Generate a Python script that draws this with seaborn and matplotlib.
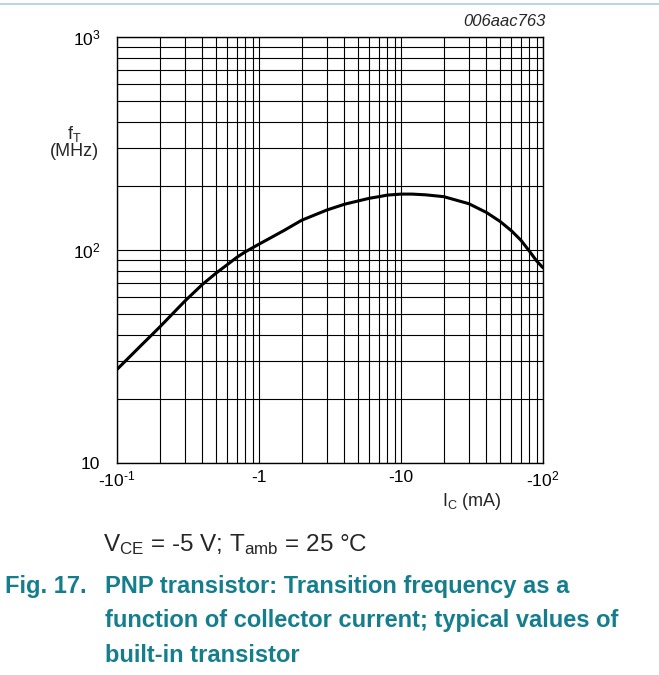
import numpy as np
import pandas as pd
import matplotlib
matplotlib.use('Agg')
import matplotlib.pyplot as plt
import matplotlib.ticker as mticker
from matplotlib.lines import Line2D
import seaborn as sns

# valores (|Ic| en mA, fT en MHz)
ic_ma = [0.1, 0.15, 0.2, 0.3, 0.4, 0.5, 0.6, 0.7, 0.8, 1, 1.5, 2, 3, 4, 5, 6, 7, 8,
         10, 12, 15, 20, 30, 40, 50, 60, 70, 80, 90, 100]
ft_mhz = [27.5, 36, 43.5, 57.5, 69, 78, 85.5, 92.5, 98, 106.5, 123.5, 138, 154, 164, 170, 175, 178, 181,
          183, 183, 181.5, 178, 165, 150, 136, 123, 111, 99, 89, 82.5]

x_ticks = [0.1, 1, 10, 100]
x_labels = [r'-10$^{\text{-1}}$', '-1', '-10', r'-10$^{\text{2}}$']
y_ticks = [10, 100, 1000]
y_labels = ['10', r'10$^{\text{2}}$', r'10$^{\text{3}}$']

teal = '#147e8d'

sns.set_style('white')
plt.rcParams['font.family'] = ['Liberation Sans', 'DejaVu Sans']
plt.rcParams['mathtext.fontset'] = 'custom'
plt.rcParams['mathtext.rm'] = 'Liberation Sans'
plt.rcParams['mathtext.it'] = 'Liberation Sans:italic'
plt.rcParams['mathtext.bf'] = 'Liberation Sans:bold'

df = pd.DataFrame({'ic': ic_ma, 'ft': ft_mhz})

fig = plt.figure(figsize=(6.59, 6.75), dpi=100)
ax = fig.add_axes([117 / 659, 1 - 463 / 675, 426 / 659, 426 / 675])

sns.lineplot(data=df, x='ic', y='ft', ax=ax, color='black', linewidth=2.2)

ax.set_xscale('log')
ax.set_yscale('log')
ax.set_xlim(0.1, 100)
ax.set_ylim(10, 1000)

ax.xaxis.set_major_locator(mticker.FixedLocator(x_ticks))
ax.xaxis.set_major_formatter(mticker.FixedFormatter(x_labels))
ax.yaxis.set_major_locator(mticker.FixedLocator(y_ticks))
ax.yaxis.set_major_formatter(mticker.FixedFormatter(y_labels))
ax.xaxis.set_minor_locator(mticker.LogLocator(base=10, subs=np.arange(2, 10)))
ax.yaxis.set_minor_locator(mticker.LogLocator(base=10, subs=np.arange(2, 10)))
ax.xaxis.set_minor_formatter(mticker.NullFormatter())
ax.yaxis.set_minor_formatter(mticker.NullFormatter())

ax.grid(True, which='both', color='black', linewidth=0.8)
ax.tick_params(which='both', length=0, labelsize=12.5, colors='black')
ax.tick_params(axis='x', pad=5)
ax.tick_params(axis='y', pad=12)
for s in ax.spines.values():
    s.set_color('black')
    s.set_linewidth(1.0)
ax.set_xlabel('')
ax.set_ylabel('')

fig.text(74 / 659, 1 - 142 / 675, r'f$_{\text{T}}$' + '\n(MHz)', ha='center', va='center',
         fontsize=13, linespacing=1.0)
fig.text(472 / 659, 1 - 502 / 675, r'I$_{\text{C}}$ (mA)', ha='center', va='center', fontsize=13)
fig.text(546 / 659, 1 - 22 / 675, '006aac763', ha='right', va='center', fontsize=12, style='italic')

fig.text(103 / 659, 1 - 545 / 675, r'V$_{\text{CE}}$ = -5 V; T$_{\text{amb}}$ = 25 °C',
         ha='left', va='center', fontsize=17.5)

fig.text(5 / 659, 1 - 586 / 675, 'Fig. 17.', ha='left', va='center', fontsize=17,
         fontweight='bold', color=teal)
caption = ['PNP transistor: Transition frequency as a',
           'function of collector current; typical values of',
           'built-in transistor']
for i, line in enumerate(caption):
    fig.text(105 / 659, 1 - (586 + 35 * i) / 675, line, ha='left', va='center', fontsize=17,
             fontweight='bold', color=teal)

fig.add_artist(Line2D([0, 1], [1 - 4 / 675, 1 - 4 / 675], color='#a9d2d8', linewidth=1.2))

fig.savefig('out.png', dpi=100)
